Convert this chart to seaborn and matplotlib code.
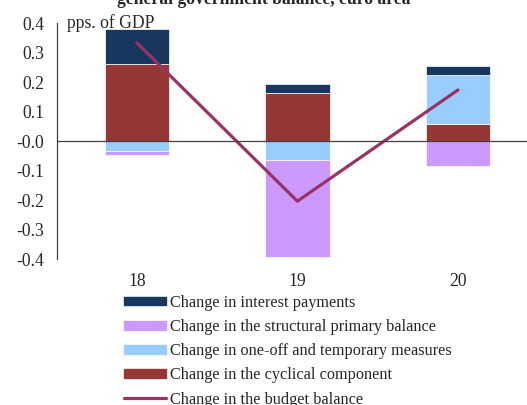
import matplotlib
matplotlib.use("Agg")
import matplotlib.pyplot as plt
import seaborn as sns
import numpy as np
import pandas as pd
from matplotlib.patches import Patch
from matplotlib.lines import Line2D

years = ["18", "19", "20"]
interest = [0.12, 0.03, 0.032]
structural = [-0.014, -0.33, -0.085]
oneoff = [-0.034, -0.063, 0.166]
cyclical = [0.26, 0.163, 0.057]
budget = [0.333, -0.204, 0.173]

labels = ["Change in interest payments",
          "Change in the structural primary balance",
          "Change in one-off and temporary measures",
          "Change in the cyclical component",
          "Change in the budget balance"]
colors = {"interest": "#17375E", "structural": "#CC99FF", "oneoff": "#99CCFF",
          "cyclical": "#953735", "budget": "#993366"}

sns.set_style("white")
plt.rcParams["font.family"] = ["Liberation Serif", "DejaVu Serif"]
plt.rcParams["axes.unicode_minus"] = False

fig = plt.figure(figsize=(5.27, 4.05), dpi=100)
ax = fig.add_axes([56.5 / 527, 146 / 405, 481.8 / 527, 236 / 405])

# stacking: positives up from 0, negatives down from 0
series = [("cyclical", cyclical), ("oneoff", oneoff), ("structural", structural), ("interest", interest)]
pos = np.zeros(len(years))
neg = np.zeros(len(years))
for name, vals in series:
    v = np.array(vals)
    bottom = np.where(v >= 0, pos, neg)
    df = pd.DataFrame({"year": years, "val": v})
    sns.barplot(data=df, x="year", y="val", bottom=bottom, color=colors[name],
                saturation=1, width=0.4, edgecolor="white", linewidth=0.5, ax=ax)
    pos = pos + np.where(v >= 0, v, 0)
    neg = neg + np.where(v < 0, v, 0)

sns.lineplot(x=np.arange(len(years)), y=budget, color=colors["budget"], lw=2.3, ax=ax)

ax.set_xlim(-0.5, 2.5)
ax.set_ylim(-0.4, 0.4)
ax.set_yticks(np.arange(-0.4, 0.41, 0.1))
ax.set_yticklabels([f"{t:.1f}" for t in np.arange(-0.4, 0.41, 0.1)], fontsize=12.7)
ax.set_xlabel("")
ax.set_ylabel("")

for s in ["top", "right"]:
    ax.spines[s].set_visible(False)
ax.spines["left"].set_color("#404040")
ax.spines["left"].set_linewidth(0.9)
ax.spines["bottom"].set_position(("data", 0))
ax.spines["bottom"].set_color("#404040")
ax.spines["bottom"].set_linewidth(0.9)
ax.tick_params(axis="y", direction="in", length=4, width=0.9, color="#404040", pad=9)
ax.set_xticks([0.5, 1.5], minor=True)
ax.tick_params(axis="x", which="minor", direction="in", length=4, width=0.9, color="#404040")
ax.tick_params(axis="x", which="major", length=0, pad=95, labelsize=12.7)

ax.text(0.022, 1.0, "pps. of GDP", transform=ax.transAxes, ha="left", va="center", fontsize=12.7)
fig.text(0.5, 1 - 4 / 405, "general government balance, euro area", ha="center", va="baseline",
         fontsize=12.7, fontweight="bold")

handles = [Patch(color=colors["interest"]), Patch(color=colors["structural"]),
           Patch(color=colors["oneoff"]), Patch(color=colors["cyclical"]),
           Line2D([], [], color=colors["budget"], lw=2.3)]
fig.legend(handles, labels, loc="upper left", bbox_to_anchor=(124 / 527, 1 - 295 / 405),
           frameon=False, fontsize=11.7, handlelength=2.6, handleheight=0.43,
           handletextpad=0.25, labelspacing=0.5, borderpad=0, borderaxespad=0)

fig.savefig("out.png", dpi=100)
